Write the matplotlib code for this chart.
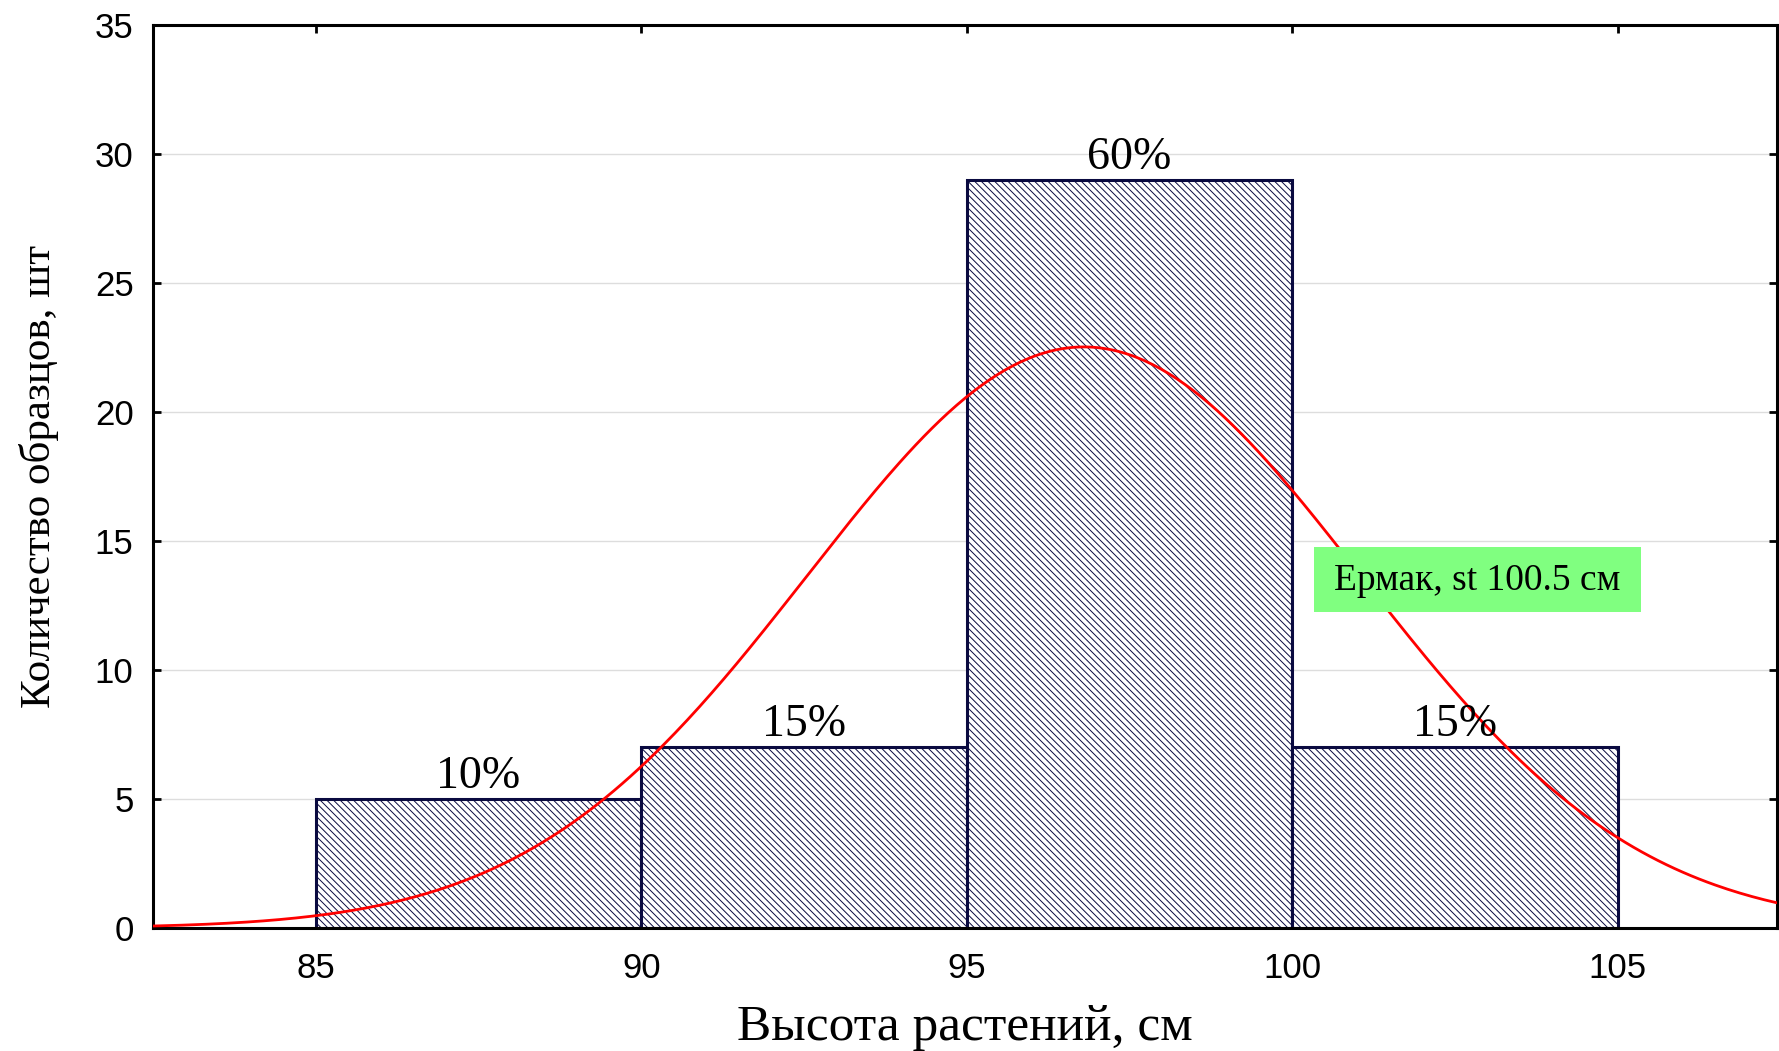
import matplotlib
matplotlib.use('Agg')
import matplotlib.pyplot as plt
from matplotlib.patches import Rectangle
import numpy as np

# histogram data
bin_left = [85, 90, 95, 100]
counts = [5, 7, 29, 7]
percents = ['10%', '15%', '60%', '15%']
bin_width = 5

# fitted normal curve parameters
fit_mean = 96.8
fit_sd = 4.25

xticks = [85, 90, 95, 100, 105]
yticks = [0, 5, 10, 15, 20, 25, 30, 35]

plt.rcParams['hatch.color'] = '#2a2a66'
plt.rcParams['hatch.linewidth'] = 0.7

fig = plt.figure(figsize=(17.79, 10.51), dpi=100)
ax = fig.add_axes([0.086, 0.117, 0.913, 0.859])

ax.bar(bin_left, counts, width=bin_width, align='edge', color='white',
       edgecolor='#0a0a40', linewidth=2.2, hatch='\\' * 5, zorder=2)

for x, c, p in zip(bin_left, counts, percents):
    ax.text(x + bin_width / 2, c + 0.05, p, ha='center', va='bottom',
            fontfamily='Liberation Serif', fontsize=33, zorder=4)

n = sum(counts)
xs = np.linspace(82.5, 107.5, 400)
ys = n * bin_width / (fit_sd * np.sqrt(2 * np.pi)) * np.exp(-0.5 * ((xs - fit_mean) / fit_sd) ** 2)
ax.plot(xs, ys, color='red', linewidth=2, zorder=3)

# label box
ax.add_patch(Rectangle((100.33, 12.26), 5.02, 2.5, facecolor='#80ff80',
                       edgecolor='none', zorder=5))
ax.text(102.84, 13.45, 'Ермак, st 100.5 см', fontfamily='Liberation Serif', fontsize=27,
        va='center', ha='center', zorder=6)

ax.set_xlim(82.5, 107.45)
ax.set_ylim(0, 35)
ax.set_xticks(xticks)
ax.set_yticks(yticks)
ax.yaxis.grid(True, color='#dddddd', linewidth=1, zorder=0)
ax.set_axisbelow(True)

ax.tick_params(direction='in', length=6, width=2, top=True, right=True,
               labelsize=25, pad=14)
ax.tick_params(axis='x', pad=17)
for lab in ax.get_xticklabels() + ax.get_yticklabels():
    lab.set_fontfamily('Liberation Sans')
for s in ax.spines.values():
    s.set_linewidth(2.2)

ax.set_xlabel('Высота растений, см', fontfamily='Liberation Serif', fontsize=37, labelpad=14)
ax.set_ylabel('Количество образцов, шт', fontfamily='Liberation Serif', fontsize=31, labelpad=26)

fig.savefig('out.png', dpi=100)
